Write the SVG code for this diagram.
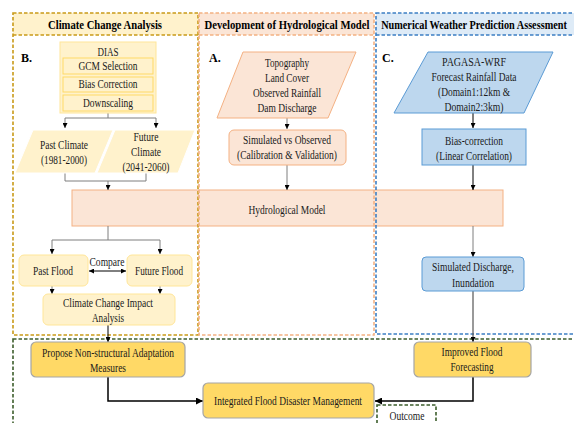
<svg xmlns="http://www.w3.org/2000/svg" width="574" height="423" viewBox="0 0 574 423">
<defs>
<marker id="ah" viewBox="0 0 6 6" refX="6" refY="3" markerWidth="5" markerHeight="5" orient="auto-start-reverse" markerUnits="userSpaceOnUse"><path d="M0,0 L6,3 L0,6 z" fill="#000"/></marker>
<marker id="ah2" viewBox="0 0 6 6" refX="6" refY="3" markerWidth="7" markerHeight="7" orient="auto-start-reverse" markerUnits="userSpaceOnUse"><path d="M0,0 L6,3 L0,6 z" fill="#000"/></marker>
</defs>
<style>
text{font-family:"Liberation Serif","Times New Roman",serif;font-size:12px;fill:#1a1a1a;text-anchor:middle}
.t{font-weight:bold;font-size:12.5px;fill:#000}
.lab{font-weight:bold;font-size:12px;fill:#000;text-anchor:start}
.y{fill:#fff2cc;stroke:#ffe699;stroke-width:1}
.yp{fill:#fff2cc;stroke:#fff;stroke-width:1}
.o{fill:#fbe5d6;stroke:#f4b183;stroke-width:1}
.b{fill:#bdd7ee;stroke:#5b9bd5;stroke-width:1}
.g{fill:#ffd966;stroke:#a5a5a5;stroke-width:1.2}
.c{fill:none;stroke:#7f7f7f;stroke-width:1}
.k{fill:none;stroke:#000;stroke-width:1.5}
.dash{fill:none;stroke-width:1.6;stroke-dasharray:3.5 2}
</style>
<!-- section headers -->
<g id="headers">
<rect x="13" y="13" width="185" height="22" fill="#fff2cc"/>
<rect x="199" y="13" width="175" height="22" fill="#fbe5d6"/>
<rect x="376" y="13" width="202" height="22" fill="#deebf7"/>
</g>
<!-- hydrological model band -->
<g id="hydro-model">
<rect x="72" y="190" width="431" height="36" fill="#fbe5d6" stroke="#f4b183" stroke-width="1"/>
<text x="287" y="214" textLength="77" lengthAdjust="spacingAndGlyphs">Hydrological Model</text>
</g>
<!-- section borders -->
<g id="sec-climate">
<rect class="dash" x="13" y="13" width="185" height="322" stroke="#c99a18"/>
<line class="dash" x1="13" y1="35" x2="198" y2="35" stroke="#c99a18"/>
<text class="t" x="105" y="29" textLength="114" lengthAdjust="spacingAndGlyphs">Climate Change Analysis</text>
<text class="lab" x="21" y="62">B.</text>
</g>
<g id="sec-hydro">
<rect class="dash" x="199" y="13" width="175" height="322" stroke="#f4b183"/>
<line class="dash" x1="199" y1="35" x2="374" y2="35" stroke="#f4b183"/>
<text class="t" x="287" y="29" textLength="165" lengthAdjust="spacingAndGlyphs">Development of Hydrological Model</text>
<text class="lab" x="209" y="62">A.</text>
</g>
<g id="sec-nwp">
<rect class="dash" x="376" y="13" width="202" height="321" stroke="#3c7fc4"/>
<line class="dash" x1="376" y1="35" x2="578" y2="35" stroke="#3c7fc4"/>
<text class="t" x="592.5" y="29" transform="scale(0.8,1)" textLength="232" lengthAdjust="spacingAndGlyphs">Numerical Weather Prediction Assessment</text>
<text class="lab" x="382" y="62">C.</text>
</g>
<g id="sec-outcome">
<rect class="dash" x="13" y="339" width="570" height="100" stroke="#3d5e2c"/>
<rect class="dash" x="377" y="405" width="59" height="30" stroke="#3d5e2c" fill="#fff"/>
<text x="407" y="420" textLength="35" lengthAdjust="spacingAndGlyphs" fill="#000">Outcome</text>
</g>
<!-- connectors -->
<g id="connectors">
<path class="c" d="M108,113 V118 M65,118 H156"/>
<path class="c" d="M65,118 V128" marker-end="url(#ah)"/>
<path class="c" d="M156,118 V128" marker-end="url(#ah)"/>
<path class="c" d="M65,173 V181 H146 V173 M108,181 V190" marker-end="url(#ah)"/>
<path class="c" d="M108,226 V240 M52,240 H160"/>
<path class="c" d="M52,240 V254" marker-end="url(#ah)"/>
<path class="c" d="M160,240 V254" marker-end="url(#ah)"/>
<path class="k" style="stroke-width:1" d="M89,271 H126" marker-start="url(#ah)" marker-end="url(#ah)"/>
<text x="107" y="266" textLength="35" lengthAdjust="spacingAndGlyphs">Compare</text>
<path class="c" d="M52,286 V294" marker-end="url(#ah)"/>
<path class="c" d="M160,286 V294" marker-end="url(#ah)"/>
<path class="k" style="stroke-width:1" d="M108,325 V342" marker-end="url(#ah)"/>
<path class="c" d="M287,118 V129" marker-end="url(#ah)"/>
<path class="c" d="M287,165 V190" marker-end="url(#ah)"/>
<path class="k" style="stroke-width:1" d="M473,113 V128" marker-end="url(#ah)"/>
<path class="k" style="stroke-width:1" d="M473,165 V190" marker-end="url(#ah)"/>
<path class="c" d="M473,226 V257" marker-end="url(#ah)"/>
<path class="k" style="stroke-width:1.2;stroke:#555" d="M473,291 V342" marker-end="url(#ah)"/>
<path class="k" d="M108,377 V401 H203" marker-end="url(#ah2)"/>
<path class="k" d="M473,377 V401 H375" marker-end="url(#ah2)"/>
</g>
<!-- climate nodes -->
<g id="dias">
<rect class="y" x="60" y="42" width="96" height="71" style="stroke:#ffe699"/>
<text x="108" y="56" textLength="21" lengthAdjust="spacingAndGlyphs">DIAS</text>
<rect class="y" x="63" y="58" width="90" height="16" style="stroke:#ffd966"/>
<text x="108" y="70" textLength="59" lengthAdjust="spacingAndGlyphs">GCM Selection</text>
<rect class="y" x="63" y="77" width="90" height="15" style="stroke:#ffd966"/>
<text x="108" y="88" textLength="59" lengthAdjust="spacingAndGlyphs">Bias Correction</text>
<rect class="y" x="63" y="95" width="90" height="16" style="stroke:#ffd966"/>
<text x="108" y="107" textLength="50" lengthAdjust="spacingAndGlyphs">Downscaling</text>
</g>
<g id="past-climate">
<polygon class="yp" points="33,130 113,130 95,173 15,173"/>
<text x="64" y="149" textLength="48" lengthAdjust="spacingAndGlyphs">Past Climate</text>
<text x="64" y="164" textLength="46" lengthAdjust="spacingAndGlyphs">(1981-2000)</text>
</g>
<g id="future-climate">
<polygon class="yp" points="115,130 195,130 178,173 97,173"/>
<text x="146" y="141" textLength="25" lengthAdjust="spacingAndGlyphs">Future</text>
<text x="146" y="156" textLength="30" lengthAdjust="spacingAndGlyphs">Climate</text>
<text x="146" y="171" textLength="47" lengthAdjust="spacingAndGlyphs">(2041-2060)</text>
</g>
<g id="past-flood">
<rect class="y" x="19" y="255" width="69" height="31" rx="5"/>
<text x="53" y="275" textLength="40" lengthAdjust="spacingAndGlyphs">Past Flood</text>
</g>
<g id="future-flood">
<rect class="y" x="127" y="255" width="65" height="31" rx="5"/>
<text x="159" y="275" textLength="48" lengthAdjust="spacingAndGlyphs">Future Flood</text>
</g>
<g id="impact">
<rect class="y" x="43" y="294" width="132" height="31" rx="5"/>
<text x="108" y="307" textLength="90" lengthAdjust="spacingAndGlyphs">Climate Change Impact</text>
<text x="108" y="322" textLength="32" lengthAdjust="spacingAndGlyphs">Analysis</text>
</g>
<!-- hydro nodes -->
<g id="hydro-inputs">
<polygon class="o" points="243,52 356,52 328,118 217,118"/>
<text x="287" y="67" textLength="44" lengthAdjust="spacingAndGlyphs">Topography</text>
<text x="287" y="82" textLength="44" lengthAdjust="spacingAndGlyphs">Land Cover</text>
<text x="287" y="97" textLength="68" lengthAdjust="spacingAndGlyphs">Observed Rainfall</text>
<text x="287" y="112" textLength="59" lengthAdjust="spacingAndGlyphs">Dam Discharge</text>
</g>
<g id="calibration">
<rect class="o" x="229" y="130" width="117" height="35" rx="5"/>
<text x="287" y="144" textLength="88" lengthAdjust="spacingAndGlyphs">Simulated vs Observed</text>
<text x="287" y="159" textLength="100" lengthAdjust="spacingAndGlyphs">(Calibration &amp; Validation)</text>
</g>
<!-- nwp nodes -->
<g id="pagasa">
<polygon class="b" points="428,52 553,52 524,113 394,113"/>
<text x="474" y="66" textLength="64" lengthAdjust="spacingAndGlyphs">PAGASA-WRF</text>
<text x="474" y="81" textLength="85" lengthAdjust="spacingAndGlyphs">Forecast Rainfall Data</text>
<text x="474" y="96" textLength="72" lengthAdjust="spacingAndGlyphs">(Domain1:12km &amp;</text>
<text x="474" y="111" textLength="59" lengthAdjust="spacingAndGlyphs">Domain2:3km)</text>
</g>
<g id="bias">
<rect class="b" x="422" y="129" width="104" height="36"/>
<text x="474" y="145" textLength="58" lengthAdjust="spacingAndGlyphs">Bias-correction</text>
<text x="474" y="160" textLength="76" lengthAdjust="spacingAndGlyphs">(Linear Correlation)</text>
</g>
<g id="sim-discharge">
<rect class="b" x="422" y="257" width="102" height="34" rx="4"/>
<text x="473" y="271" textLength="82" lengthAdjust="spacingAndGlyphs">Simulated Discharge,</text>
<text x="473" y="287" textLength="42" lengthAdjust="spacingAndGlyphs">Inundation</text>
</g>
<!-- outcome nodes -->
<g id="propose">
<rect class="g" x="31" y="342" width="154" height="35" rx="5"/>
<text x="108" y="357" textLength="132" lengthAdjust="spacingAndGlyphs">Propose Non-structural Adaptation</text>
<text x="108" y="372" textLength="36" lengthAdjust="spacingAndGlyphs">Measures</text>
</g>
<g id="improved">
<rect class="g" x="414" y="342" width="117" height="35" rx="5"/>
<text x="472" y="356" textLength="61" lengthAdjust="spacingAndGlyphs">Improved Flood</text>
<text x="472" y="371" textLength="43" lengthAdjust="spacingAndGlyphs">Forecasting</text>
</g>
<g id="integrated">
<rect class="g" x="203" y="383" width="171" height="35" rx="5"/>
<text x="288" y="405" textLength="148" lengthAdjust="spacingAndGlyphs">Integrated Flood Disaster Management</text>
</g>
</svg>
